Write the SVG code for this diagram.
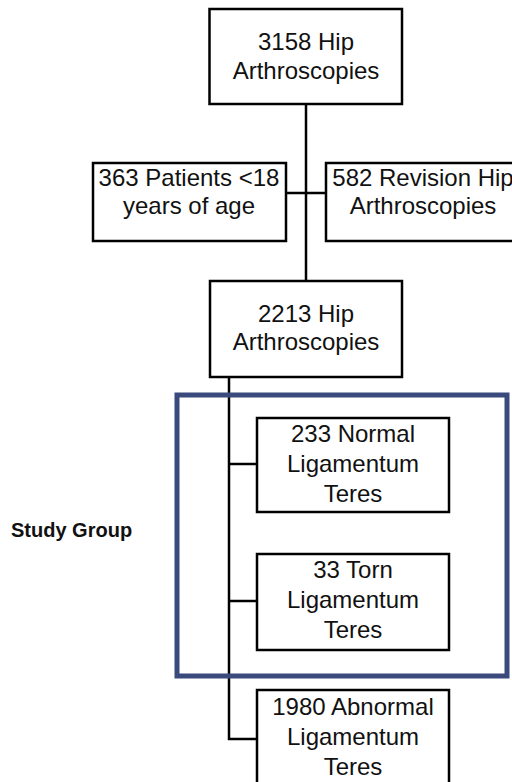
<svg xmlns="http://www.w3.org/2000/svg" width="512" height="782" viewBox="0 0 512 782">
<style>
.box{fill:#fff;stroke:#000;stroke-width:2.5}
.t{font-family:"Liberation Sans",Arial,sans-serif;font-size:24px;fill:#111;text-anchor:middle}
.c{fill:none;stroke:#000;stroke-width:2.5}
.g{fill:none;stroke:#3a4a7c;stroke-width:5}
.sg{font-family:"Liberation Sans",Arial,sans-serif;font-size:20px;font-weight:bold;fill:#111}
</style>
<rect width="512" height="782" fill="#fff"/>
<g id="connectors">
<path class="c" d="M306 104 V281"/>
<path class="c" d="M286 193 H326"/>
<path class="c" d="M229 377 V739 H257"/>
<path class="c" d="M229 464 H257"/>
<path class="c" d="M229 601 H257"/>
</g>
<g id="study-group">
<rect class="g" x="177" y="395" width="330" height="281"/>
<text class="sg" x="11" y="537">Study Group</text>
</g>
<g id="n1">
<rect class="box" x="209.5" y="9" width="192.5" height="95"/>
<text class="t" x="306" y="50">3158 Hip</text>
<text class="t" x="306" y="79">Arthroscopies</text>
</g>
<g id="n2">
<rect class="box" x="93" y="163" width="193" height="78"/>
<text class="t" x="189" y="186">363 Patients &lt;18</text>
<text class="t" x="189" y="214">years of age</text>
</g>
<g id="n3">
<rect class="box" x="326" y="163" width="200" height="78"/>
<text class="t" x="423" y="186">582 Revision Hip</text>
<text class="t" x="423" y="214">Arthroscopies</text>
</g>
<g id="n4">
<rect class="box" x="210" y="281" width="192" height="96"/>
<text class="t" x="306" y="322">2213 Hip</text>
<text class="t" x="306" y="350">Arthroscopies</text>
</g>
<g id="n5">
<rect class="box" x="257" y="418" width="192" height="94"/>
<text class="t" x="353" y="442">233 Normal</text>
<text class="t" x="353" y="472">Ligamentum</text>
<text class="t" x="353" y="502">Teres</text>
</g>
<g id="n6">
<rect class="box" x="257" y="554" width="192" height="96"/>
<text class="t" x="353" y="578">33 Torn</text>
<text class="t" x="353" y="608">Ligamentum</text>
<text class="t" x="353" y="638">Teres</text>
</g>
<g id="n7">
<rect class="box" x="257" y="690" width="192" height="100"/>
<text class="t" x="353" y="715">1980 Abnormal</text>
<text class="t" x="353" y="745">Ligamentum</text>
<text class="t" x="353" y="775">Teres</text>
</g>
</svg>
